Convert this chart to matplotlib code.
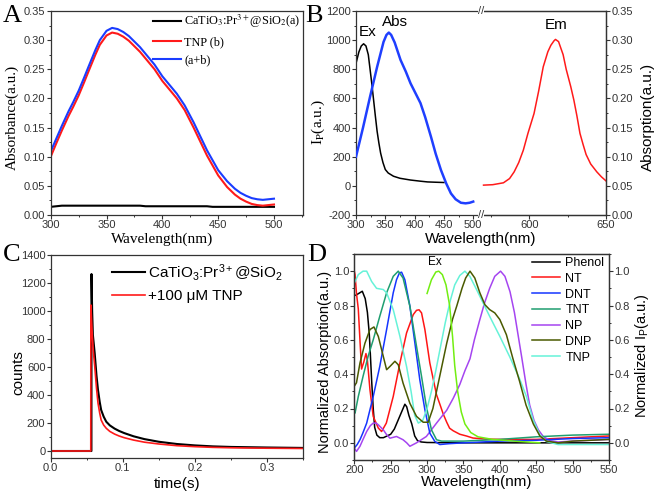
import matplotlib
matplotlib.use('Agg')
import matplotlib.pyplot as plt
from matplotlib.ticker import MultipleLocator
from matplotlib.font_manager import FontProperties

SANS = 'Liberation Sans'
SERIF = 'Liberation Serif'
plt.rcParams['font.family'] = [SANS, 'DejaVu Sans']
plt.rcParams['mathtext.fontset'] = 'custom'
plt.rcParams['mathtext.rm'] = SANS
plt.rcParams['mathtext.it'] = SANS + ':italic'
plt.rcParams['mathtext.bf'] = SANS + ':bold'
plt.rcParams['axes.unicode_minus'] = False
plt.rcParams['axes.linewidth'] = 0.9
plt.rcParams['axes.edgecolor'] = '#333333'
for a in ('xtick', 'ytick'):
    plt.rcParams[a + '.direction'] = 'out'
    plt.rcParams[a + '.major.size'] = 2.6
    plt.rcParams[a + '.minor.size'] = 1.5
    plt.rcParams[a + '.major.width'] = 0.8
    plt.rcParams[a + '.minor.width'] = 0.7
    plt.rcParams[a + '.major.pad'] = 1.2
    plt.rcParams[a + '.labelsize'] = 8
    plt.rcParams[a + '.color'] = '#333333'

# ---------------- Panel A data ----------------
wlA = [300, 305, 310, 316, 320, 325, 330, 334, 340, 344, 350, 355, 360, 365, 370, 380,
       393, 400, 413, 420, 428, 435, 440, 450, 458, 465, 470, 475, 480, 485, 490, 495, 500]
tnpA = [0.100, 0.123, 0.145, 0.170, 0.185, 0.205, 0.228, 0.247, 0.275, 0.292, 0.308, 0.313,
        0.311, 0.306, 0.299, 0.280, 0.250, 0.230, 0.200, 0.180, 0.150, 0.122, 0.102, 0.068,
        0.048, 0.035, 0.028, 0.023, 0.019, 0.017, 0.016, 0.017, 0.018]
sumA = [0.109, 0.131, 0.153, 0.178, 0.193, 0.213, 0.236, 0.255, 0.283, 0.300, 0.316, 0.321,
        0.319, 0.314, 0.307, 0.288, 0.258, 0.238, 0.208, 0.188, 0.159, 0.131, 0.111, 0.077,
        0.058, 0.045, 0.038, 0.033, 0.029, 0.027, 0.026, 0.027, 0.028]
wlA_black = [300, 305, 310, 380, 385, 440, 445, 500]
phosA = [0.014, 0.015, 0.016, 0.016, 0.015, 0.015, 0.014, 0.014]
labelsA = ['CaTiO$_3$:Pr$^{3+}$@SiO$_2$(a)', 'TNP (b)', '(a+b)']

# ---------------- Panel B data ----------------
wlEx = [300, 305, 309, 313, 317, 321, 324, 327, 330, 333, 336, 339, 342, 346, 350, 355, 364,
        375, 393, 410, 422, 435, 450]
ex = [840, 920, 960, 975, 960, 900, 800, 700, 590, 480, 375, 295, 225, 160, 112, 88, 66, 52,
      40, 32, 27, 25, 23]
wlAbs = [300, 312, 324, 336, 347, 352, 356, 360, 366, 376, 385, 393, 402, 410, 418, 428, 436,
         445, 454, 462, 470, 479, 487, 494, 500]
absB = [0.100, 0.150, 0.203, 0.254, 0.297, 0.309, 0.313, 0.309, 0.296, 0.266, 0.246, 0.226,
        0.208, 0.192, 0.168, 0.134, 0.105, 0.077, 0.054, 0.037, 0.027, 0.021, 0.020, 0.021, 0.023]
wlEm = [570, 576, 583, 587, 590, 593, 596, 599, 603, 606, 609, 612, 614, 616, 617, 619, 620,
        622, 624, 627, 629, 631, 633, 635, 637, 640, 644, 647, 650]
em = [5, 8, 21, 50, 96, 160, 245, 360, 497, 650, 817, 920, 965, 995, 1005, 990, 960, 900, 800,
      680, 589, 480, 360, 285, 215, 150, 96, 62, 34]

# ---------------- Panel C data ----------------
tC1 = [0, 0.0565, 0.0566, 0.0575, 0.0585, 0.061, 0.0635, 0.0656, 0.068, 0.070, 0.0735, 0.0771,
       0.082, 0.0886, 0.095, 0.102, 0.115, 0.13, 0.15, 0.175, 0.2, 0.225, 0.25, 0.3, 0.35]
cnt1 = [0, 0, 1264, 1000, 830, 700, 540, 436, 350, 293, 245, 209, 183, 160, 143, 128, 105, 85,
        66, 50, 40, 33, 29, 25, 22]
tC2 = [0, 0.0556, 0.0557, 0.0575, 0.059, 0.061, 0.0635, 0.0656, 0.068, 0.070, 0.0735, 0.0771,
       0.082, 0.0886, 0.095, 0.102, 0.115, 0.13, 0.15, 0.175, 0.2, 0.225, 0.25, 0.3, 0.35]
cnt2 = [0, 0, 1043, 850, 720, 610, 450, 343, 270, 221, 185, 162, 140, 121, 107, 95, 78, 63, 50,
        38, 31, 26, 23, 20, 18]
labelsC = ['CaTiO$_3$:Pr$^{3+}$@SiO$_2$', '+100 \u03bcM TNP']

# ---------------- Panel D data ----------------
wl_phenol = [202, 206, 211, 215, 218, 220.5, 222, 224, 226, 228, 231, 235, 240, 245, 250, 255,
             260, 265, 269.5, 272, 275, 279, 283, 287, 292, 300, 350, 400, 450, 500, 550]
phenol = [0.86, 0.87, 0.883, 0.84, 0.76, 0.64, 0.52, 0.35, 0.2, 0.09, 0.045, 0.03, 0.03, 0.04,
          0.05, 0.08, 0.13, 0.18, 0.225, 0.21, 0.16, 0.11, 0.04, 0.012, 0.005, 0.002, 0.0, 0.0,
          0.0, 0.0, 0.0]
wl_nt = [200, 201, 203, 205.5, 208, 210, 213, 216, 218, 221.5, 226, 233, 237.5, 244, 253.5,
         262.7, 271.8, 281, 285.5, 289, 292.4, 297, 303.8, 313, 318, 322, 327, 331, 336, 345,
         354, 363, 380, 400, 450, 500, 550]
nt = [1.0, 0.98, 0.87, 0.78, 0.58, 0.43, 0.47, 0.52, 0.48, 0.31, 0.154, 0.086, 0.066, 0.115,
      0.27, 0.465, 0.64, 0.747, 0.772, 0.775, 0.757, 0.66, 0.465, 0.28, 0.22, 0.17, 0.12, 0.085,
      0.07, 0.05, 0.04, 0.028, 0.022, 0.02, 0.02, 0.03, 0.04]
wl_dnt = [200, 204, 208, 212, 217, 226, 235, 244.4, 253.5, 258, 262, 265, 269.5, 276.4, 283.3,
          290, 297, 303.8, 310.7, 317.6, 330, 350, 400, 450, 500, 550]
dnt = [-0.03, -0.01, 0.02, 0.06, 0.115, 0.27, 0.445, 0.66, 0.874, 0.95, 0.99, 0.994, 0.95,
       0.796, 0.58, 0.368, 0.193, 0.056, 0.008, -0.01, -0.005, 0.0, 0.01, 0.015, 0.025, 0.03]
wl_tnt = [200, 201, 205.5, 212, 219, 226, 235, 244.4, 253.5, 260.4, 267, 276.4, 285.5, 292.4,
          299, 306, 313, 320, 350, 400, 450, 500, 550]
tnt = [0.19, 0.173, 0.27, 0.387, 0.504, 0.6, 0.737, 0.874, 0.97, 1.0, 0.96, 0.796, 0.562, 0.387,
       0.212, 0.076, 0.018, 0.01, 0.01, 0.02, 0.035, 0.045, 0.05]
wl_np = [200, 203, 207.8, 212, 217, 222, 226, 230, 233, 239.8, 244, 249, 258, 267, 272, 276.4,
         285.5, 299, 313, 327, 336, 345, 352, 359, 365, 372, 379, 386, 393, 401, 407, 414, 420,
         425, 430, 436, 441, 447, 453, 460, 470, 480, 500, 550]
np_ = [-0.03, -0.05, -0.02, 0.02, 0.066, 0.1, 0.115, 0.115, 0.105, 0.076, 0.05, 0.027, 0.037,
       0.018, 0.0, -0.02, 0.0, 0.037, 0.115, 0.19, 0.26, 0.34, 0.42, 0.49, 0.6, 0.71, 0.815,
       0.9, 0.97, 1.0, 0.97, 0.88, 0.76, 0.63, 0.5, 0.34, 0.22, 0.13, 0.075, 0.035, 0.012, 0.005,
       0.01, 0.02]
wl_dnp = [200, 203, 207.8, 214.6, 221.5, 227, 233, 239.8, 244.4, 249, 255.8, 260.4, 267, 276.4,
          285.5, 294.7, 301.5, 308, 318, 327, 335, 341, 348, 353, 359, 365.6, 372.5, 379.4, 386,
          393, 400, 409, 418, 427, 436, 446, 455, 464, 480, 500, 550]
dnp = [0.33, 0.35, 0.465, 0.58, 0.66, 0.675, 0.62, 0.504, 0.426, 0.445, 0.475, 0.455, 0.348,
       0.23, 0.154, 0.12, 0.12, 0.2, 0.4, 0.58, 0.72, 0.8, 0.9, 0.96, 1.0, 0.96, 0.874, 0.805,
       0.776, 0.757, 0.718, 0.63, 0.49, 0.36, 0.22, 0.11, 0.04, 0.01, 0.0, 0.01, 0.02]
wl_tnp = [200, 205.5, 212, 217, 223.8, 230.6, 239.8, 244.4, 253.5, 262.7, 271.8, 278, 283, 288,
          294, 300, 306, 312, 318, 325, 332, 338, 345, 352, 358.8, 368, 377, 386, 400, 413.7,
          427.4, 436.5, 445.7, 454.9, 464, 480, 500, 550]
tnp = [0.93, 0.98, 1.0, 1.0, 0.94, 0.9, 0.893, 0.874, 0.776, 0.62, 0.445, 0.3, 0.16, 0.115,
       0.13, 0.2, 0.3, 0.42, 0.55, 0.7, 0.83, 0.92, 0.975, 1.0, 0.97, 0.893, 0.815, 0.737, 0.62,
       0.5, 0.37, 0.27, 0.134, 0.047, 0.008, -0.01, -0.01, -0.01]
wl_ex = [300, 306, 312, 316, 321, 326, 331, 335, 338, 342, 347, 352, 360, 370, 390, 420, 455]
ex_d = [0.87, 0.95, 0.995, 1.0, 0.98, 0.92, 0.8, 0.62, 0.45, 0.3, 0.18, 0.11, 0.06, 0.035, 0.02,
        0.01, 0.0]
labelsD = ['Phenol', 'NT', 'DNT', 'TNT', 'NP', 'DNP', 'TNP']
colorsD = ['#000000', '#ff1515', '#1535ff', '#1f9e70', '#a545f0', '#4a5a00', '#66f2d8']

# ---------------- layout helpers ----------------
W, H = 658, 495
fig = plt.figure(figsize=(W / 100, H / 100), dpi=100)


def rect(l, r, t, b):
    return [l / W, 1 - b / H, (r - l) / W, (b - t) / H]


def serif(size):
    return FontProperties(family=SERIF, size=size, math_fontfamily='stix')


def sans(size):
    return FontProperties(family=SANS, size=size)


def place_xlabel(ax, x, y):
    ax.xaxis.set_label_coords(x, y)
    ax.xaxis.label.set_va('center')


def place_ylabel(ax, x, y, axis=None):
    axis = axis or ax.yaxis
    axis.set_label_coords(x, y)
    axis.label.set_va('center')
    axis.label.set_rotation_mode('anchor')


# ---------------- Panel A ----------------
axA = fig.add_axes(rect(50.7, 303, 11, 215))
axA.plot(wlA_black, phosA, color='#000000', lw=1.5, label=labelsA[0])
axA.plot(wlA, tnpA, color='#ff1a1a', lw=1.5, label=labelsA[1])
axA.plot(wlA, sumA, color='#1a3cff', lw=1.5, label=labelsA[2])
axA.set_xlim(300, 526)
axA.set_ylim(0, 0.35)
axA.xaxis.set_major_locator(MultipleLocator(50))
axA.xaxis.set_minor_locator(MultipleLocator(25))
axA.yaxis.set_major_locator(MultipleLocator(0.05))
axA.yaxis.set_minor_locator(MultipleLocator(0.025))
axA.yaxis.set_major_formatter(matplotlib.ticker.FormatStrFormatter('%.2f'))
axA.set_xlabel('Wavelength(nm)', fontproperties=serif(11))
axA.set_ylabel('Absorbance(a.u.)', fontproperties=serif(11))
place_xlabel(axA, 0.44, -0.118)
place_ylabel(axA, -0.153, 0.478)
axA.legend(loc='upper left', bbox_to_anchor=(0.405, 0.99), frameon=False, prop=serif(8.8),
           borderpad=0, borderaxespad=0, handlelength=2.3, handletextpad=0.25,
           labelspacing=0.5)

# ---------------- Panel B ----------------
axB1 = fig.add_axes(rect(356, 482, 11, 215))
axB2 = fig.add_axes(rect(482, 606, 11, 215))
axB1.plot(wlEx, ex, color='#000000', lw=1.1)
axB1.set_xlim(300, 515)
axB1.set_ylim(-200, 1200)
axB1.spines['right'].set_visible(False)
axB1.yaxis.set_major_locator(MultipleLocator(200))
axB1.yaxis.set_minor_locator(MultipleLocator(100))
axB1.xaxis.set_major_locator(MultipleLocator(50))
axB1.xaxis.set_minor_locator(MultipleLocator(25))
axB1.set_ylabel('I$_\\mathrm{P}$(a.u.)', fontproperties=serif(11))
place_ylabel(axB1, -0.30, 0.456)
axB1t = axB1.twinx()
axB1t.plot(wlAbs, absB, color='#1f3fff', lw=1.8)
axB1t.set_ylim(0, 0.35)
axB1t.set_yticks([])
for s in axB1t.spines.values():
    s.set_visible(False)

axB2.plot(wlEm, em, color='#ff1a1a', lw=1.1)
axB2.set_xlim(569, 650)
axB2.set_ylim(-200, 1200)
axB2.spines['left'].set_visible(False)
axB2.set_yticks([])
axB2.xaxis.set_major_locator(MultipleLocator(50))
axB2.xaxis.set_minor_locator(MultipleLocator(25))
axB2t = axB2.twinx()
axB2t.set_ylim(0, 0.35)
axB2t.spines['left'].set_visible(False)
axB2t.yaxis.set_major_locator(MultipleLocator(0.05))
axB2t.yaxis.set_minor_locator(MultipleLocator(0.025))
axB2t.yaxis.set_major_formatter(matplotlib.ticker.FormatStrFormatter('%.2f'))
axB2t.set_ylabel('Absorption(a.u.)', fontproperties=sans(11))
axB2t.yaxis.set_label_coords(1.341, 0.482)
axB2t.yaxis.label.set_va('center')
axB2t.yaxis.label.set_rotation(90)
fig.text(481 / W, 1 - 239 / H, 'Wavelength(nm)', ha='center', va='center', fontproperties=sans(11))
for yy in (11, 215):
    fig.text(481 / W, 1 - yy / H, '//', ha='center', va='center', fontsize=8, color='#333333',
             bbox=dict(facecolor='white', edgecolor='none', pad=0.2))
fig.text(368 / W, 1 - 32 / H, 'Ex', ha='center', va='center', fontproperties=sans(11))
fig.text(395 / W, 1 - 22 / H, 'Abs', ha='center', va='center', fontproperties=sans(11))
fig.text(556 / W, 1 - 25 / H, 'Em', ha='center', va='center', fontproperties=sans(11))

# ---------------- Panel C ----------------
axC = fig.add_axes(rect(50.7, 303, 255, 458))
axC.plot(tC1, cnt1, color='#000000', lw=1.5, label=labelsC[0])
axC.plot(tC2, cnt2, color='#ff1a1a', lw=1.2, label=labelsC[1])
axC.set_xlim(0, 0.35)
axC.set_ylim(-50, 1400)
axC.xaxis.set_major_locator(MultipleLocator(0.1))
axC.xaxis.set_minor_locator(MultipleLocator(0.05))
axC.yaxis.set_major_locator(MultipleLocator(200))
axC.yaxis.set_minor_locator(MultipleLocator(100))
axC.set_xlabel('time(s)', fontproperties=sans(11))
axC.set_ylabel('counts', fontproperties=sans(11))
place_xlabel(axC, 0.5, -0.128)
place_ylabel(axC, -0.13, 0.419)
axC.legend(loc='upper left', bbox_to_anchor=(0.243, 0.965), frameon=False, prop=sans(11),
           borderpad=0, borderaxespad=0, handlelength=2.15, handletextpad=0.2,
           labelspacing=0.38)

# ---------------- Panel D ----------------
axD = fig.add_axes(rect(354.3, 609, 254, 460))
seriesD = [(wl_phenol, phenol), (wl_nt, nt), (wl_dnt, dnt), (wl_tnt, tnt), (wl_np, np_),
           (wl_dnp, dnp), (wl_tnp, tnp)]
order = [0, 1, 4, 2, 3, 6, 5]
handles = {}
for i in order:
    x, y = seriesD[i]
    h, = axD.plot(x, y, color=colorsD[i], lw=1.1, label=labelsD[i])
    handles[i] = h
axD.plot(wl_ex, ex_d, color='#72ee12', lw=1.1)
axD.set_xlim(200, 550)
axD.set_ylim(-0.1, 1.1)
axD.xaxis.set_major_locator(MultipleLocator(50))
axD.xaxis.set_minor_locator(MultipleLocator(25))
axD.yaxis.set_major_locator(MultipleLocator(0.2))
axD.yaxis.set_minor_locator(MultipleLocator(0.1))
axD.set_xlabel('Wavelength(nm)', fontproperties=sans(11))
axD.set_ylabel('Normalized Absorption(a.u.)', fontproperties=sans(10.5))
place_xlabel(axD, 0.48, -0.109)
place_ylabel(axD, -0.115, 0.476)
axDt = axD.twinx()
axDt.set_ylim(-0.1, 1.1)
axDt.yaxis.set_major_locator(MultipleLocator(0.2))
axDt.yaxis.set_minor_locator(MultipleLocator(0.1))
axDt.set_ylabel('Normalized I$_\\mathrm{P}$(a.u.)', fontproperties=sans(10.5))
axDt.yaxis.set_label_coords(1.128, 0.507)
axDt.yaxis.label.set_va('center')
axDt.yaxis.label.set_rotation(90)
axD.legend([handles[i] for i in range(7)], labelsD, loc='upper left',
           bbox_to_anchor=(0.6965, 0.985), frameon=False, prop=sans(9), borderpad=0,
           borderaxespad=0, handlelength=2.3, handletextpad=0.4, labelspacing=0.3)
fig.text(435 / W, 1 - 262 / H, 'Ex', ha='center', va='center', fontproperties=sans(8.5))

# ---------------- panel letters ----------------
for letter, x, y in (('A', 3, 22), ('B', 305, 22), ('C', 3, 261), ('D', 307, 261)):
    fig.text(x / W, 1 - y / H, letter, ha='left', va='baseline', fontproperties=serif(19))

fig.savefig('out.png', dpi=100)
